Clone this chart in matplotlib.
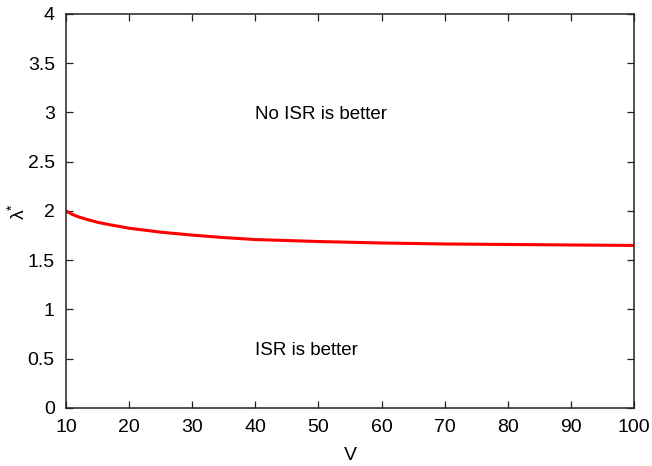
import matplotlib
matplotlib.use("Agg")
import matplotlib.pyplot as plt

plt.rcParams['font.family'] = ['Liberation Sans', 'DejaVu Sans']
plt.rcParams['mathtext.fontset'] = 'custom'
plt.rcParams['mathtext.rm'] = 'Liberation Sans'
plt.rcParams['mathtext.it'] = 'Liberation Sans'

# curve
V = [10, 11, 12, 13, 15, 17, 20, 25, 30, 35, 40, 50, 60, 70, 80, 90, 100]
lam = [2.0, 1.965, 1.94, 1.92, 1.885, 1.86, 1.825, 1.785, 1.755, 1.73, 1.71,
       1.69, 1.675, 1.665, 1.66, 1.655, 1.65]

xticks = [10, 20, 30, 40, 50, 60, 70, 80, 90, 100]
yticks = [0, 0.5, 1, 1.5, 2, 2.5, 3, 3.5, 4]
ytick_labels = ['0', '0.5', '1', '1.5', '2', '2.5', '3', '3.5', '4']

fig = plt.figure(figsize=(6.52, 4.66), dpi=100)
ax = fig.add_axes([0.1012, 0.1245, 0.8712, 0.8455])

ax.plot(V, lam, color='#ff0000', linewidth=2.2)

ax.text(40, 2.98, 'No ISR is better', fontsize=13.5, ha='left', va='center')
ax.text(40, 0.58, 'ISR is better', fontsize=13.5, ha='left', va='center')

ax.set_xlim(10, 100)
ax.set_ylim(0, 4)
ax.set_xticks(xticks)
ax.set_yticks(yticks)
ax.set_yticklabels(ytick_labels)
ax.tick_params(direction='in', top=True, right=True, length=5, width=0.9,
               labelsize=14, pad=8, colors='#222222', labelcolor='black')
for s in ax.spines.values():
    s.set_linewidth(1.1)
    s.set_color('#222222')

ax.set_xlabel('V', fontsize=14)
ax.set_ylabel(r'$\mathrm{\lambda}^{*}$', fontsize=14)
ax.xaxis.set_label_coords(0.5, -0.1, transform=ax.transAxes)
ax.yaxis.set_label_coords(-0.066, 0.5, transform=ax.transAxes)

fig.savefig('out.png', dpi=100)
